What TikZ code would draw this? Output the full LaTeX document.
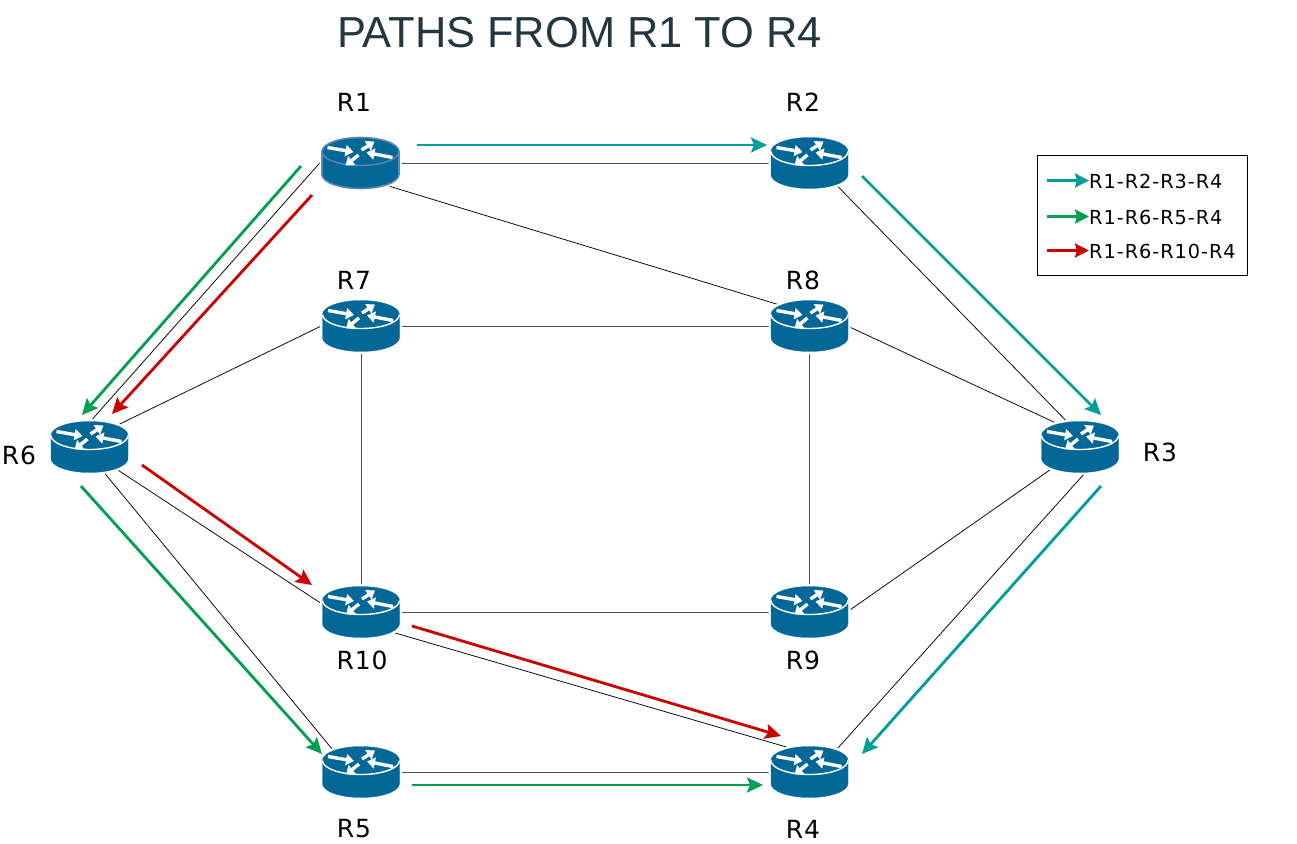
\documentclass[tikz,border=0pt]{standalone}
\usepackage{fontspec}
\setmainfont{DejaVu Sans}
\newfontfamily\titlefont{Liberation Sans}
\newfontfamily\wideface[LetterSpace=5]{DejaVu Sans}
\newfontfamily\labelface[LetterSpace=3.5]{DejaVu Sans}
\usetikzlibrary{arrows.meta,backgrounds}
\definecolor{routerblue}{HTML}{036897}
\definecolor{routeredge}{HTML}{5F86B3}
\definecolor{pathteal}{HTML}{009E9A}
\definecolor{pathgreen}{HTML}{00A050}
\definecolor{pathred}{HTML}{CC0000}
\definecolor{titlecol}{HTML}{22373F}
\tikzset{
  routerbox/.style={inner sep=0pt,outer sep=0pt,minimum width=60pt,minimum height=36pt},
  link/.style={draw=black,line width=0.75pt},
  hvlink/.style={draw=black!70,line width=1pt},
  patharrow/.style={line width=2.8pt,-{Stealth[length=16pt,width=15pt,inset=3pt]}},
  legendarrow/.style={line width=2.6pt,-{Stealth[length=14pt,width=14pt,inset=2pt]}},
  rarrow/.style={draw=white,line width=3.4pt,-{Triangle[length=8pt,width=11pt]},fill=white},
  rlabel/.style={font=\labelface\fontsize{25}{25}\selectfont,inner sep=0pt,text=black},
  legendtext/.style={font=\wideface\fontsize{19.3}{19.3}\selectfont,inner sep=0pt,anchor=west,text=black},
}
\newcommand{\routerglyph}[6]{% name, x, y, outline colour, separator colour, outline width
  \node[routerbox] (#1) at (#2,#3) {};
  \begin{scope}[shift={(#2,#3)}]
    \path[fill=routerblue,draw=#4,line width=#6,preaction={draw=white,line width=5pt}]
      (-38.5,-11.5) -- (-38.5,11.5) arc[start angle=180,end angle=0,x radius=38.5,y radius=14]
      -- (38.5,-11.5) arc[start angle=0,end angle=-180,x radius=38.5,y radius=14] -- cycle;
    \draw[#5,line width=1.4pt] (-38.5,-11.5) arc[start angle=180,end angle=0,x radius=38.5,y radius=14];
    \draw[rarrow] (-33,-15.5) -- (-7,-11);
    \draw[rarrow] (1,-13) -- (14,-21.5);
    \draw[rarrow] (32,-5.5) -- (6,-10.5);
    \draw[rarrow] (-2,-8) -- (-15,2.5);
  \end{scope}
}
\begin{document}
\begin{tikzpicture}[x=1pt,y=-1pt]
\useasboundingbox (0,0) rectangle (1297,843);
\node[font=\titlefont\fontsize{43.4}{44}\selectfont,text=titlecol,inner sep=0pt] (title) at (579.5,33) {PATHS FROM R1 TO R4};

\routerglyph{R1}{360.5}{163}{routeredge}{routeredge}{1.6pt}
\routerglyph{R2}{809.5}{163}{routerblue}{white}{0.3pt}
\routerglyph{R7}{361}{326}{routerblue}{white}{0.3pt}
\routerglyph{R8}{809.5}{326}{routerblue}{white}{0.3pt}
\routerglyph{R6}{89.5}{447}{routerblue}{white}{0.3pt}
\routerglyph{R3}{1080}{447}{routerblue}{white}{0.3pt}
\routerglyph{R10}{361}{612}{routerblue}{white}{0.3pt}
\routerglyph{R9}{809.5}{612}{routerblue}{white}{0.3pt}
\routerglyph{R5}{361}{772}{routerblue}{white}{0.3pt}
\routerglyph{R4}{809.5}{772}{routerblue}{white}{0.3pt}

\begin{scope}[on background layer]
  \fill[white] (0,0) rectangle (1297,843);
  \draw[hvlink] (R1.east) -- (R2.west);
  \draw[link] (R1.158) -- (R6.108);
  \draw[link] (R1.-57.4) -- (R8.138);
  \draw[link] (R2.-38) -- (R3.108);
  \draw[hvlink] (R7.east) -- (R8.west);
  \draw[link] (R7.171.7) -- (R6.42);
  \draw[hvlink] (R7.south) -- (R10.north);
  \draw[hvlink] (R8.south) -- (R9.north);
  \draw[link] (R8.7.6) -- (R3.122);
  \draw[link] (R3.-142) -- (R9.-10.6);
  \draw[link] (R3.-56) -- (R4.38.5);
  \draw[hvlink] (R10.east) -- (R9.west);
  \draw[link] (R6.-41.4) -- (R10.176);
  \draw[link] (R6.-65) -- (R5.144);
  \draw[link] (R10.-37) -- (R4.87);
  \draw[hvlink] (R5.east) -- (R4.west);
\end{scope}

\node[rlabel] (lR1) at (354,102) {R1};
\node[rlabel] (lR2) at (803,102) {R2};
\node[rlabel] (lR7) at (354,280) {R7};
\node[rlabel] (lR8) at (803,280) {R8};
\node[rlabel] (lR6) at (19,455) {R6};
\node[rlabel] (lR3) at (1160,452) {R3};
\node[rlabel] (lR10) at (362,660) {R10};
\node[rlabel] (lR9) at (803,660) {R9};
\node[rlabel] (lR5) at (354,829) {R5};
\node[rlabel] (lR4) at (803,829) {R4};

% path arrows
\coordinate (ta1) at (417,145); \coordinate (ta2) at (767,145);
\coordinate (tb1) at (862,176); \coordinate (tb2) at (1101,415);
\coordinate (tc1) at (1101,486); \coordinate (tc2) at (862,754);
\coordinate (ga1) at (301,166); \coordinate (ga2) at (82,415);
\coordinate (gb1) at (81,486); \coordinate (gb2) at (322,754);
\coordinate (gc1) at (412,785); \coordinate (gc2) at (763,785);
\coordinate (ra1) at (312,195); \coordinate (ra2) at (112,414);
\coordinate (rb1) at (142,465); \coordinate (rb2) at (312,585);
\coordinate (rc1) at (412,626); \coordinate (rc2) at (781,736);
\draw[patharrow,pathteal] (ta1) -- (ta2);
\draw[patharrow,pathteal] (tb1) -- (tb2);
\draw[patharrow,pathteal] (tc1) -- (tc2);
\draw[patharrow,pathgreen] (ga1) -- (ga2);
\draw[patharrow,pathgreen] (gb1) -- (gb2);
\draw[patharrow,pathgreen] (gc1) -- (gc2);
\draw[patharrow,pathred] (ra1) -- (ra2);
\draw[patharrow,pathred] (rb1) -- (rb2);
\draw[patharrow,pathred] (rc1) -- (rc2);

% legend
\node[draw=black,line width=0.8pt,inner sep=0pt,minimum width=210pt,minimum height=120pt] (legend) at (1142,215) {};
\node[legendtext] (lt1) at (1089,181) {R1-R2-R3-R4};
\node[legendtext] (lt2) at (1089,217) {R1-R6-R5-R4};
\node[legendtext] (lt3) at (1089,251) {R1-R6-R10-R4};
\coordinate (la1) at (1047,180.5); \coordinate (la2) at (1047,216.5); \coordinate (la3) at (1047,250.5);
\draw[legendarrow,pathteal] (la1) -- (lt1.west |- la1);
\draw[legendarrow,pathgreen] (la2) -- (lt2.west |- la2);
\draw[legendarrow,pathred] (la3) -- (lt3.west |- la3);
\end{tikzpicture}
\end{document}
